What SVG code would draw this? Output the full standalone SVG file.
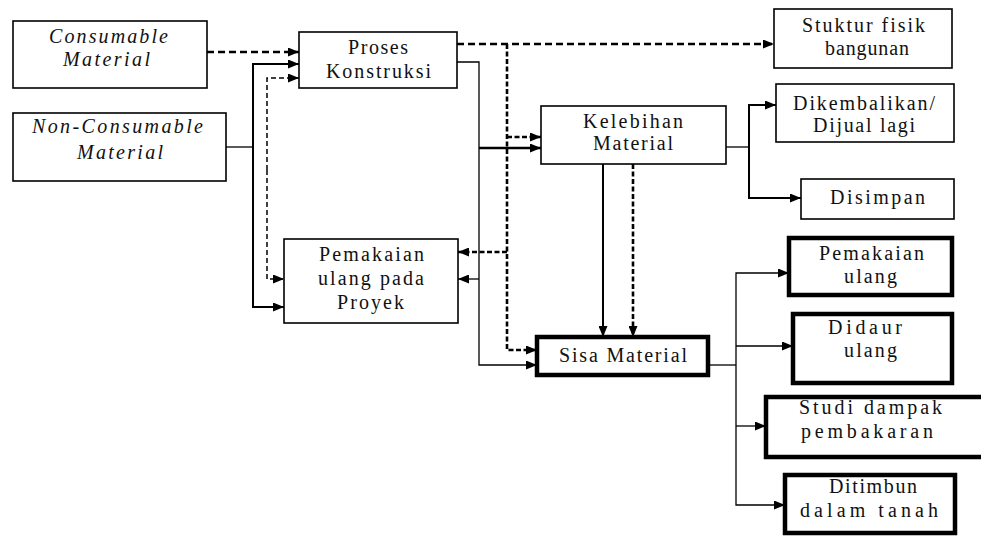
<svg xmlns="http://www.w3.org/2000/svg" width="981" height="543" viewBox="0 0 981 543">
<style>
.bx{fill:#fff;stroke:#000;stroke-width:1.6}
.bk{fill:#fff;stroke:#000;stroke-width:4.5}
text{font-family:"Liberation Serif","Times New Roman",serif;font-size:20px;fill:#111}
.it{font-style:italic}
.c{fill:none;stroke:#000}
.thin{stroke-width:1.3}
.med{stroke-width:2}
.thick{stroke-width:2.6}
.dl{stroke-width:2.6;stroke-dasharray:7 4}
.dt{stroke-width:1.5;stroke-dasharray:5 3}
.dd{stroke-width:2.6;stroke-dasharray:5 2.5}
</style>
<defs>
<marker id="ah" markerUnits="userSpaceOnUse" markerWidth="11" markerHeight="9" refX="11" refY="4.5" orient="auto">
<path d="M0,0 L11,4.5 L0,9 z" fill="#000"/>
</marker>
</defs>
<rect width="981" height="543" fill="#fff"/>
<g id="connectors">
<path class="c dl" d="M207,52 H299" marker-end="url(#ah)"/>
<path class="c thin" d="M226,147 H253"/>
<path class="c med" d="M253,186 V64 H299" marker-end="url(#ah)"/>
<path class="c med" d="M253,186 V307 H284" marker-end="url(#ah)"/>
<path class="c dt" d="M267,170 V78 H299" marker-end="url(#ah)"/>
<path class="c dt" d="M267,170 V279 H284" marker-end="url(#ah)"/>
<path class="c thin" d="M457,62 H479 V365 H537" marker-end="url(#ah)"/>
<path class="c thick" d="M479,148 H541" marker-end="url(#ah)"/>
<path class="c thin" d="M479,279 H458" marker-end="url(#ah)"/>
<path class="c dl" d="M457,44 H774" marker-end="url(#ah)"/>
<path class="c dd" d="M507,44 V350 H537" marker-end="url(#ah)"/>
<path class="c dd" d="M507,137 H541" marker-end="url(#ah)"/>
<path class="c dd" d="M507,252 H458" marker-end="url(#ah)"/>
<path class="c med" d="M603,164 V337" marker-end="url(#ah)"/>
<path class="c dd" d="M633,164 V337" marker-end="url(#ah)"/>
<path class="c thin" d="M726,147 H749"/>
<path class="c med" d="M749,147 V105 H776" marker-end="url(#ah)"/>
<path class="c med" d="M749,147 V198 H801" marker-end="url(#ah)"/>
<path class="c thin" d="M708,365 H736"/>
<path class="c thin" d="M736,365 V273 H789" marker-end="url(#ah)"/>
<path class="c thin" d="M736,365 V505 H785" marker-end="url(#ah)"/>
<path class="c thin" d="M736,346 H793" marker-end="url(#ah)"/>
<path class="c thin" d="M736,426 H766" marker-end="url(#ah)"/>
</g>
<g id="consumable">
<rect class="bx" x="13" y="21" width="194" height="67"/>
<text class="it" x="49" y="43" textLength="119" lengthAdjust="spacing">Consumable</text>
<text class="it" x="63" y="66" textLength="87" lengthAdjust="spacing">Material</text>
</g>
<g id="nonconsumable">
<rect class="bx" x="13" y="113" width="213" height="68"/>
<text class="it" x="32" y="133" textLength="171" lengthAdjust="spacing">Non-Consumable</text>
<text class="it" x="77" y="159" textLength="86" lengthAdjust="spacing">Material</text>
</g>
<g id="proses">
<rect class="bx" x="299" y="32" width="158" height="56"/>
<text x="348" y="54" textLength="60" lengthAdjust="spacing">Proses</text>
<text x="326" y="78" textLength="105" lengthAdjust="spacing">Konstruksi</text>
</g>
<g id="stuktur">
<rect class="bx" x="774" y="9" width="178" height="59"/>
<text x="802" y="32" textLength="123" lengthAdjust="spacing">Stuktur fisik</text>
<text x="825" y="55" textLength="84" lengthAdjust="spacing">bangunan</text>
</g>
<g id="kelebihan">
<rect class="bx" x="541" y="106" width="185" height="58"/>
<text x="583" y="128" textLength="100" lengthAdjust="spacing">Kelebihan</text>
<text x="593" y="150" textLength="80" lengthAdjust="spacing">Material</text>
</g>
<g id="dikembalikan">
<rect class="bx" x="776" y="84" width="178" height="58"/>
<text x="793" y="110" textLength="142" lengthAdjust="spacing">Dikembalikan/</text>
<text x="813" y="132" textLength="102" lengthAdjust="spacing">Dijual lagi</text>
</g>
<g id="disimpan">
<rect class="bx" x="801" y="179" width="153" height="40"/>
<text x="830" y="204" textLength="95" lengthAdjust="spacing">Disimpan</text>
</g>
<g id="pemakaian-proyek">
<rect class="bx" x="284" y="239" width="174" height="84"/>
<text x="319" y="261" textLength="105" lengthAdjust="spacing">Pemakaian</text>
<text x="318" y="285" textLength="106" lengthAdjust="spacing">ulang pada</text>
<text x="337" y="309" textLength="67" lengthAdjust="spacing">Proyek</text>
</g>
<g id="sisa">
<rect class="bk" x="537" y="337" width="171" height="38"/>
<text x="559" y="362" textLength="128" lengthAdjust="spacing">Sisa Material</text>
</g>
<g id="pemakaian-ulang">
<rect class="bk" x="789" y="238" width="163" height="57"/>
<text x="819" y="260" textLength="105" lengthAdjust="spacing">Pemakaian</text>
<text x="844" y="283" textLength="53" lengthAdjust="spacing">ulang</text>
</g>
<g id="didaur">
<rect class="bk" x="793" y="314" width="159" height="69"/>
<text x="828" y="334" textLength="74" lengthAdjust="spacing">Didaur</text>
<text x="844" y="357" textLength="53" lengthAdjust="spacing">ulang</text>
</g>
<g id="studi">
<rect class="bk" x="766" y="397" width="222" height="60"/>
<text x="799" y="414" textLength="143" lengthAdjust="spacing">Studi dampak</text>
<text x="801" y="438" textLength="132" lengthAdjust="spacing">pembakaran</text>
</g>
<g id="ditimbun">
<rect class="bk" x="785" y="475" width="170" height="58"/>
<text x="829" y="493" textLength="88" lengthAdjust="spacing">Ditimbun</text>
<text x="800" y="517" textLength="138" lengthAdjust="spacing">dalam tanah</text>
</g>
</svg>
